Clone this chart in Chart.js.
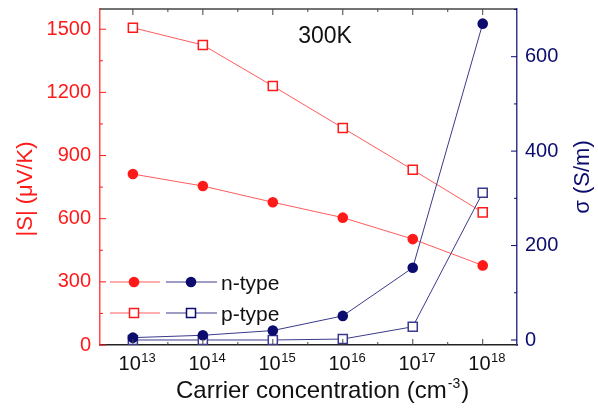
<!DOCTYPE html>
<html>
<head>
<meta charset="utf-8">
<script src="https://cdn.jsdelivr.net/npm/chart.js@4.4.1/dist/chart.umd.min.js"></script>
<style>
    html, body { margin: 0; padding: 0; background: #fff; }
    canvas { display: block; }
</style>
</head>
<body>
<canvas id="chart" width="598" height="412"></canvas>
<script>
    // Carrier concentration as powers of ten (cm^-3)
    const exponents = [13, 14, 15, 16, 17, 18];

    // Seebeck coefficient |S| (uV/K), left axis
    const seebeckN = [812, 755, 678, 605, 503, 378];
    const seebeckP = [1507, 1425, 1230, 1031, 832, 630];

    // Electrical conductivity sigma (S/m), right axis
    const sigmaN = [5, 10, 20, 51, 153, 670];
    const sigmaP = [0, 0, 0, 2, 28, 312];

    // Tick labels
    const seebeckTicks = [0, 300, 600, 900, 1200, 1500];
    const sigmaTicks = [0, 200, 400, 600];
    const xTickExp = [13, 14, 15, 16, 17, 18];

    const FONT = "'Liberation Sans', Arial, sans-serif";
    const RED = '#ff1a1a';
    const RED_LINE = 'rgba(255, 50, 50, 0.8)';
    const NAVY = '#0c0c6e';
    const NAVY_LINE = '#3a3a8c';

    const toPoints = (ys) => exponents.map((e, i) => ({ x: e, y: ys[i] }));

    function seg(ctx, x1, y1, x2, y2) {
        ctx.beginPath();
        ctx.moveTo(x1, y1);
        ctx.lineTo(x2, y2);
        ctx.stroke();
    }

    function circle(ctx, x, y, color) {
        ctx.fillStyle = color;
        ctx.beginPath();
        ctx.arc(x, y, 5.3, 0, Math.PI * 2);
        ctx.fill();
    }

    function square(ctx, x, y, color) {
        ctx.fillStyle = '#fff';
        ctx.strokeStyle = color;
        ctx.lineWidth = 1.5;
        ctx.fillRect(x - 4.5, y - 4.5, 9, 9);
        ctx.strokeRect(x - 4.5, y - 4.5, 9, 9);
    }

    // vertical axes: no extra label padding, fixed width
    function fixWidth(w) {
        return function (s) {
            s.width = w;
            s.paddingTop = 0;
            s.paddingBottom = 0;
        };
    }

    const decorations = {
        id: 'decorations',
        afterDraw(chart) {
            const ctx = chart.ctx;
            const a = chart.chartArea;
            const sx = chart.scales.x;
            const sy = chart.scales.y;
            const s1 = chart.scales.y1;
            ctx.save();

            // top frame line
            ctx.strokeStyle = '#444';
            ctx.lineWidth = 1.5;
            seg(ctx, a.left, a.top, a.right, a.top);

            // inward ticks on x (top and bottom)
            ctx.lineWidth = 1;
            xTickExp.forEach(e => {
                const px = sx.getPixelForValue(e);
                seg(ctx, px, a.bottom, px, a.bottom - 6);
                seg(ctx, px, a.top, px, a.top + 6);
                if (e + 0.5 <= sx.max) {
                    const mx = sx.getPixelForValue(e + 0.5);
                    seg(ctx, mx, a.bottom, mx, a.bottom - 3);
                    seg(ctx, mx, a.top, mx, a.top + 3);
                }
            });

            // left axis ticks
            ctx.strokeStyle = RED;
            seebeckTicks.forEach(t => {
                const py = sy.getPixelForValue(t);
                seg(ctx, a.left, py, a.left + 6, py);
                if (t + 150 <= sy.max) {
                    const my = sy.getPixelForValue(t + 150);
                    seg(ctx, a.left, my, a.left + 3, my);
                }
            });

            // right axis ticks
            ctx.strokeStyle = NAVY;
            sigmaTicks.forEach(t => {
                const py = s1.getPixelForValue(t);
                seg(ctx, a.right, py, a.right - 6, py);
                if (t + 100 <= s1.max) {
                    const my = s1.getPixelForValue(t + 100);
                    seg(ctx, a.right, my, a.right - 3, my);
                }
            });

            // x tick labels 10^n
            ctx.fillStyle = '#111';
            ctx.textBaseline = 'alphabetic';
            ctx.textAlign = 'left';
            xTickExp.forEach(e => {
                const px = sx.getPixelForValue(e);
                ctx.font = `20px ${FONT}`;
                const w1 = ctx.measureText('10').width;
                ctx.font = `13px ${FONT}`;
                const w2 = ctx.measureText(String(e)).width;
                const x0 = px - (w1 + w2) / 2 + 4;
                ctx.font = `20px ${FONT}`;
                ctx.fillText('10', x0, 370);
                ctx.font = `13px ${FONT}`;
                ctx.fillText(String(e), x0 + w1 + 0.5, 362);
            });

            // x title
            ctx.font = `24px ${FONT}`;
            const t1 = 'Carrier concentration (cm';
            const w1 = ctx.measureText(t1).width;
            ctx.fillText(t1, 176, 398);
            ctx.font = `14px ${FONT}`;
            ctx.fillText('-3', 176 + w1 + 1, 388);
            const w2 = ctx.measureText('-3').width;
            ctx.font = `24px ${FONT}`;
            ctx.fillText(')', 176 + w1 + w2 + 2, 398);

            // left title
            ctx.font = `22px ${FONT}`;
            ctx.textAlign = 'center';
            ctx.textBaseline = 'middle';
            ctx.save();
            ctx.translate(26, 189);
            ctx.rotate(-Math.PI / 2);
            ctx.fillStyle = RED;
            ctx.fillText('|S| (\u03bcV/K)', 0, 0);
            ctx.restore();

            // right title
            ctx.save();
            ctx.translate(583, 177);
            ctx.rotate(-Math.PI / 2);
            ctx.fillStyle = NAVY;
            ctx.fillText('\u03c3 (S/m)', 0, 0);
            ctx.restore();

            // temperature note
            ctx.fillStyle = '#111';
            ctx.textBaseline = 'alphabetic';
            ctx.font = `23px ${FONT}`;
            ctx.fillText('300K', 325, 43);

            // legend
            const rows = [
                { y: 282, label: 'n-type', filled: true },
                { y: 313, label: 'p-type', filled: false }
            ];
            rows.forEach(r => {
                ctx.lineWidth = 1;
                ctx.strokeStyle = RED_LINE;
                seg(ctx, 110, r.y, 160, r.y);
                ctx.strokeStyle = NAVY_LINE;
                seg(ctx, 166, r.y, 217, r.y);
                if (r.filled) {
                    circle(ctx, 134, r.y, RED);
                    circle(ctx, 191, r.y, NAVY);
                } else {
                    square(ctx, 134, r.y, RED);
                    square(ctx, 191, r.y, NAVY);
                }
                ctx.fillStyle = '#111';
                ctx.font = `21px ${FONT}`;
                ctx.textAlign = 'left';
                ctx.fillText(r.label, 221, r.y + 8);
            });

            ctx.restore();
        }
    };

    const noGrid = { drawOnChartArea: false, drawTicks: false };

    new Chart(document.getElementById('chart'), {
        type: 'line',
        data: {
            datasets: [
                {
                    label: 'sigma n-type',
                    data: toPoints(sigmaN),
                    yAxisID: 'y1',
                    borderColor: NAVY_LINE,
                    borderWidth: 1,
                    pointStyle: 'circle',
                    pointRadius: 5.3,
                    pointBackgroundColor: NAVY,
                    pointBorderColor: NAVY,
                    pointBorderWidth: 0
                },
                {
                    label: 'S n-type',
                    data: toPoints(seebeckN),
                    yAxisID: 'y',
                    borderColor: RED_LINE,
                    borderWidth: 1,
                    pointStyle: 'circle',
                    pointRadius: 5.3,
                    pointBackgroundColor: RED,
                    pointBorderColor: RED,
                    pointBorderWidth: 0
                },
                {
                    label: 'sigma p-type',
                    data: toPoints(sigmaP),
                    yAxisID: 'y1',
                    borderColor: NAVY_LINE,
                    borderWidth: 1,
                    pointStyle: 'rect',
                    pointRadius: 6.4,
                    pointBackgroundColor: '#fff',
                    pointBorderColor: NAVY_LINE,
                    pointBorderWidth: 1.5
                },
                {
                    label: 'S p-type',
                    data: toPoints(seebeckP),
                    yAxisID: 'y',
                    borderColor: RED_LINE,
                    borderWidth: 1,
                    pointStyle: 'rect',
                    pointRadius: 6.4,
                    pointBackgroundColor: '#fff',
                    pointBorderColor: RED,
                    pointBorderWidth: 1.5
                }
            ]
        },
        options: {
            responsive: false,
            animation: false,
            layout: { padding: { top: 9, left: 0, right: 0, bottom: 0 } },
            plugins: { legend: { display: false }, tooltip: { enabled: false } },
            elements: { line: { tension: 0 } },
            scales: {
                x: {
                    type: 'linear',
                    min: 12.53,
                    max: 18.49,
                    ticks: { display: false },
                    grid: noGrid,
                    border: { color: '#222', width: 1.5 },
                    afterFit(s) {
                        s.height = 67;
                        s.paddingLeft = 0;
                        s.paddingRight = 0;
                    }
                },
                y: {
                    position: 'left',
                    min: 0,
                    max: 1596,
                    ticks: {
                        stepSize: 300,
                        includeBounds: false,
                        color: RED,
                        padding: 9,
                        font: { family: FONT, size: 20 },
                        callback: v => String(v)
                    },
                    grid: noGrid,
                    border: { color: 'rgba(255, 40, 40, 0.85)', width: 1.5 },
                    afterFit: fixWidth(100)
                },
                y1: {
                    position: 'right',
                    min: -10.6,
                    max: 701,
                    ticks: {
                        stepSize: 200,
                        includeBounds: false,
                        color: NAVY,
                        padding: 8,
                        font: { family: FONT, size: 20 },
                        callback: v => String(v)
                    },
                    grid: noGrid,
                    border: { color: NAVY_LINE, width: 1.5 },
                    afterFit: fixWidth(81)
                }
            }
        },
        plugins: [decorations]
    });
</script>
</body>
</html>
